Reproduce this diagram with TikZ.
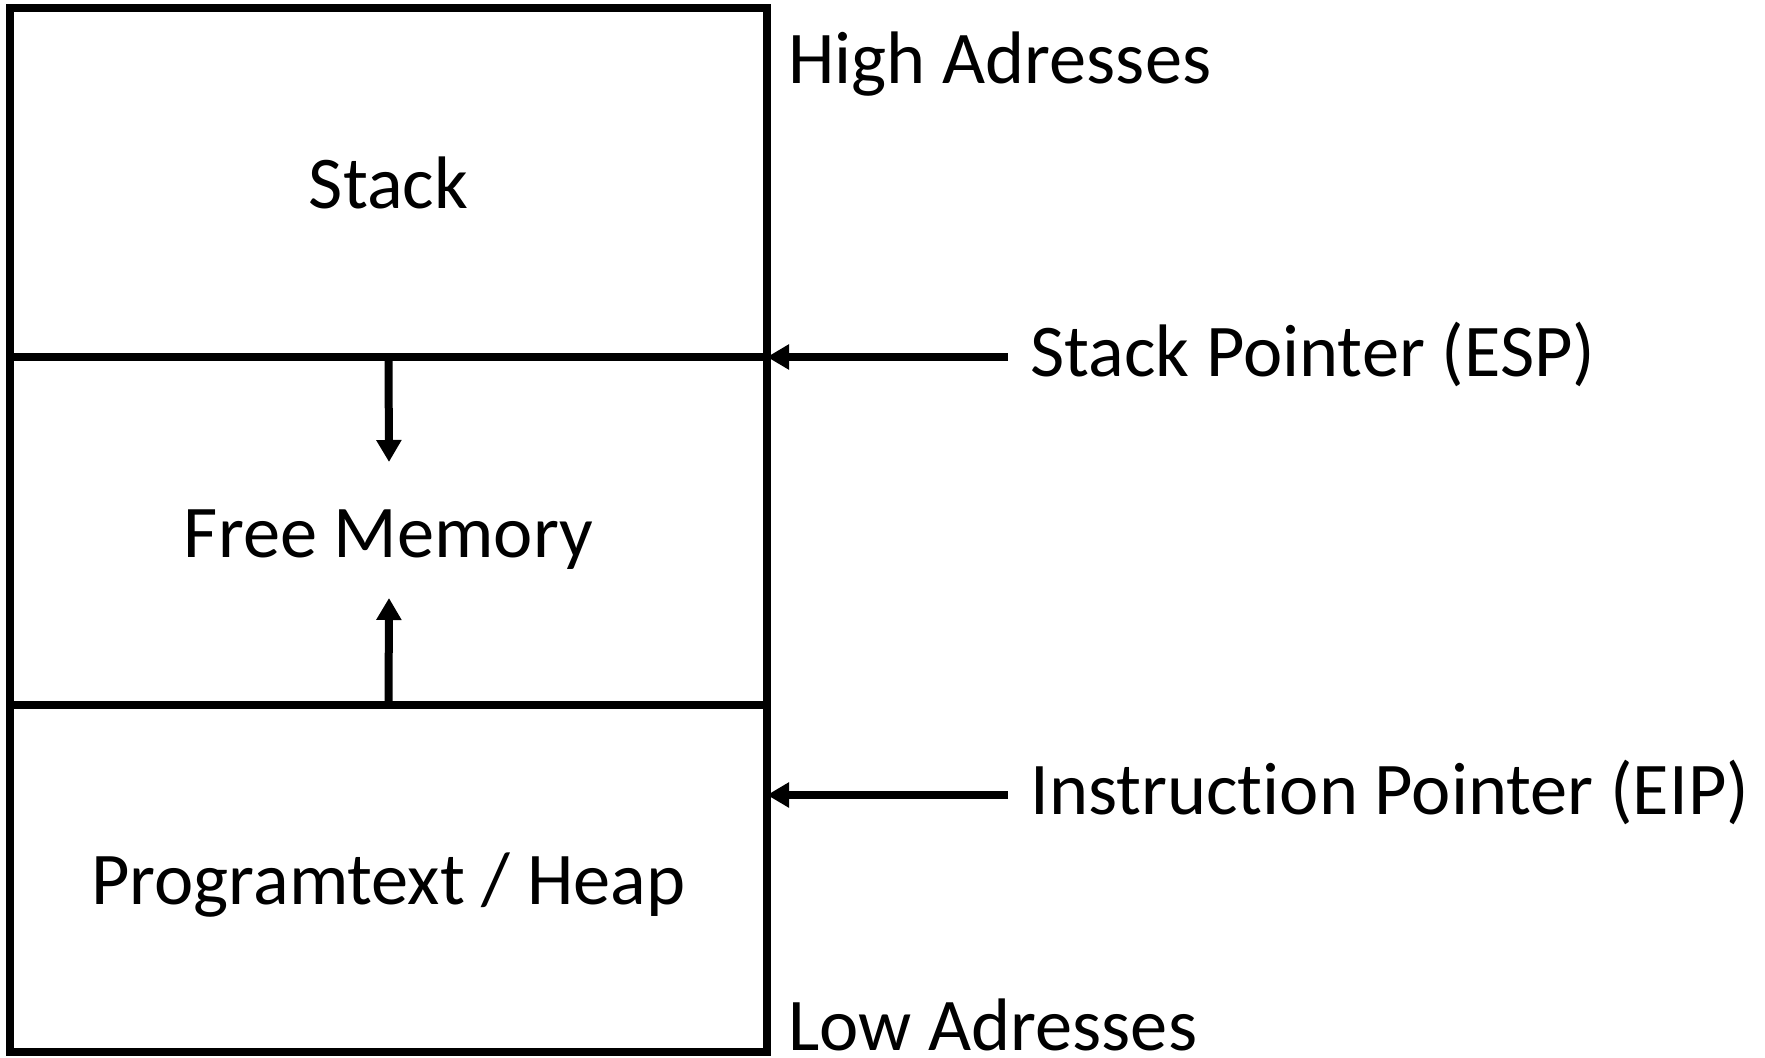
\documentclass[tikz,border=0pt]{standalone}
\usepackage{fontspec}
\setmainfont{Carlito}[Ligatures={NoCommon,NoRare,NoContextual}]
\usetikzlibrary{arrows.meta}
\begin{document}
\begin{tikzpicture}[x=0.5pt,y=-0.5pt,
  seg/.style={draw=black,line width=4pt,minimum width=378.5pt,inner sep=0pt,outer sep=0pt},
  lbl/.style={inner sep=0pt,font=\fontsize{37.2pt}{44pt}\selectfont},
  arr/.style={line width=4pt,-{Triangle[length=11pt,width=12pt]}}]
\useasboundingbox (0,0) rectangle (1765,1058);
\node[seg,minimum height=174.25pt] (stack) at (388.5,182.75) {};
\node[seg,minimum height=174pt] (free) at (388.5,531) {};
\node[seg,minimum height=173.5pt] (heap) at (388.5,878.5) {};
\node[lbl,anchor=base] (tstack) at (388.5,209) {Stack};
\node[lbl,anchor=base] (tfree) at (388.5,557) {Free Memory};
\node[lbl,anchor=base] (theap) at (388.5,904) {Programtext / Heap};
\node[lbl,anchor=base west] (high) at (788,84) {High Adresses};
\node[lbl,anchor=base west] (low) at (788,1050) {Low Adresses};
\node[lbl,anchor=base west] (esp) at (1030,377) {Stack Pointer (ESP)};
\node[lbl,anchor=base west] (eip) at (1030,814) {Instruction Pointer (EIP)};
\coordinate (espfrom) at (1008,357);
\coordinate (eipfrom) at (1008,795);
\coordinate (downto) at (389,462);
\coordinate (upto) at (389,598);
\draw[arr] (espfrom) -- (espfrom -| stack.east);
\draw[arr] (eipfrom) -- (eipfrom -| heap.east);
\draw[arr] (stack.south) -- (downto);
\draw[arr] (heap.north) -- (upto);
\end{tikzpicture}
\end{document}
